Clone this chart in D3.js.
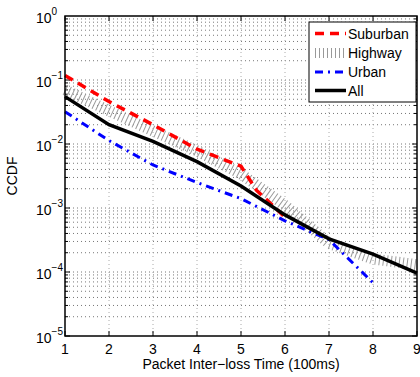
<!DOCTYPE html>
<html><head><meta charset="utf-8">
<script src="https://cdn.jsdelivr.net/npm/d3@7"></script>
<style>body{margin:0;background:#fff}svg{display:block}text{font-family:"Liberation Sans",Arial,sans-serif;fill:#000}</style>
</head><body><svg id="c" width="420" height="377"></svg>
<script>
const xTicks = [1,2,3,4,5,6,7,8,9];
const yExps = [0,-1,-2,-3,-4,-5];
const allX = [1,2,3,4,5,6,7,8,9];
const allY = [0.055,0.020,0.011,0.0053,0.0022,0.00078,0.00033,0.00019,0.000096];
const hwX = [1,2,3,4,5,6,7,8,9];
const hwY = [0.07,0.033,0.016,0.0078,0.0034,0.0011,0.00028,0.00016,0.00013];
const subX = [1,2,3,4,5,5.35,6];
const subY = [0.118,0.046,0.020,0.0083,0.0045,0.0019,0.00072];
const urbX = [1,2,3,4,5,6,7,8];
const urbY = [0.032,0.0113,0.0047,0.0025,0.0014,0.00063,0.00032,0.000068];
const seriesNames = ["Suburban","Highway","Urban","All"];

const svg = d3.select("#c");
const L=65, R=417, T=16, B=336;
const x = d3.scaleLinear().domain([1,9]).range([L,R]);
const y = d3.scaleLog().domain([1e-5,1]).range([B,T]);

const grid = svg.append("g");
// horizontal grid (major+minor)
const yGridVals = [];
for (let e=-5;e<0;e++) for (let m=1;m<10;m++) yGridVals.push(m*Math.pow(10,e));
grid.selectAll("line.h").data(yGridVals.filter(v=>v>1e-5)).enter().append("line")
  .attr("x1",L).attr("x2",R).attr("y1",d=>y(d)).attr("y2",d=>y(d))
  .attr("stroke","#777").attr("stroke-width",1).attr("stroke-dasharray","1,3");
grid.selectAll("line.v").data(xTicks.slice(1,-1)).enter().append("line")
  .attr("y1",T).attr("y2",B).attr("x1",d=>x(d)).attr("x2",d=>x(d))
  .attr("stroke","#aaa").attr("stroke-width",1).attr("stroke-dasharray","1,3");

// ticks inside
const tk = svg.append("g").attr("stroke","#000").attr("stroke-width",1);
xTicks.forEach(v=>{
  tk.append("line").attr("x1",x(v)).attr("x2",x(v)).attr("y1",B).attr("y2",B-5);
  tk.append("line").attr("x1",x(v)).attr("x2",x(v)).attr("y1",T).attr("y2",T+5);
});
yGridVals.forEach(v=>{
  const isMaj = Math.abs(Math.log10(v)-Math.round(Math.log10(v)))<1e-9;
  const len = isMaj?5:3;
  tk.append("line").attr("x1",L).attr("x2",L+len).attr("y1",y(v)).attr("y2",y(v));
  tk.append("line").attr("x1",R).attr("x2",R-len).attr("y1",y(v)).attr("y2",y(v));
});

const line = (xs,ys)=>d3.line().x((d,i)=>x(xs[i])).y(d=>y(d))(ys);
const plot = svg.append("g");
plot.append("path").attr("d",line(hwX,hwY)).attr("fill","none").attr("stroke","#999")
  .attr("stroke-width",11).attr("stroke-dasharray","1,3");
plot.append("path").attr("d",line(subX,subY)).attr("fill","none").attr("stroke","#ff0000")
  .attr("stroke-width",3.5).attr("stroke-dasharray","9,6");
plot.append("path").attr("d",line(urbX,urbY)).attr("fill","none").attr("stroke","#0000ff")
  .attr("stroke-width",3).attr("stroke-dasharray","8,5,2,5");
plot.append("path").attr("d",line(allX,allY)).attr("fill","none").attr("stroke","#000")
  .attr("stroke-width",3.5);

// frame
svg.append("rect").attr("x",L).attr("y",T).attr("width",R-L).attr("height",B-T)
  .attr("fill","none").attr("stroke","#000").attr("stroke-width",1.5);

// tick labels
xTicks.forEach(v=>{
  svg.append("text").attr("x",x(v)).attr("y",354).attr("text-anchor","middle")
    .attr("font-size",14).text(v);
});
yExps.forEach(e=>{
  const t = svg.append("text").attr("x",36).attr("y",y(Math.pow(10,e))+6.5).attr("font-size",14);
  t.append("tspan").text("10");
  t.append("tspan").attr("dy",-8).attr("font-size",10).text(e===0?"0":"\u2212"+(-e));
});
svg.append("text").attr("x",241).attr("y",369).attr("text-anchor","middle").attr("font-size",14)
  .text("Packet Inter\u2212loss Time (100ms)");
svg.append("text").attr("transform","translate(17,176) rotate(-90)").attr("text-anchor","middle")
  .attr("font-size",14).text("CCDF");

// legend
const lg = svg.append("g");
lg.append("rect").attr("x",309).attr("y",22).attr("width",107).attr("height",80)
  .attr("fill","#fff").attr("stroke","#000").attr("stroke-width",1);
const ly = [33.5,53,72,90.5];
const styles = [
  {stroke:"#ff0000",w:3.5,da:"9,6"},
  {stroke:"#999",w:10,da:"1,3"},
  {stroke:"#0000ff",w:3,da:"8,5,2,5"},
  {stroke:"#000",w:3.5,da:null}
];
seriesNames.forEach((n,i)=>{
  const l = lg.append("line").attr("x1",315).attr("x2",346).attr("y1",ly[i]).attr("y2",ly[i])
    .attr("stroke",styles[i].stroke).attr("stroke-width",styles[i].w);
  if (styles[i].da) l.attr("stroke-dasharray",styles[i].da);
  lg.append("text").attr("x",348).attr("y",ly[i]+5).attr("font-size",14).text(n);
});
</script></body></html>
